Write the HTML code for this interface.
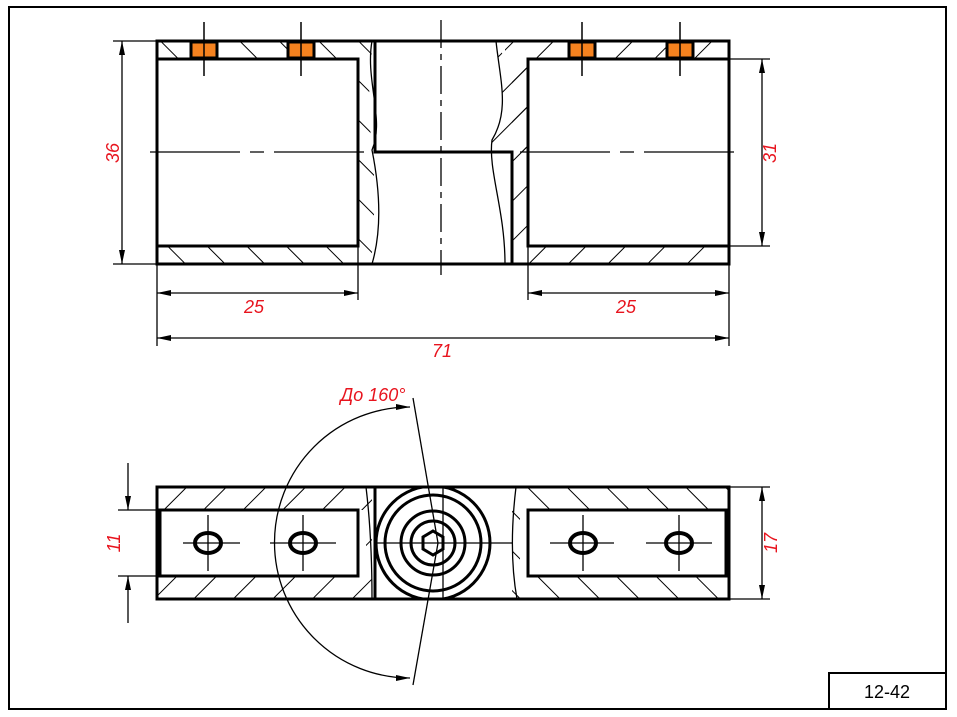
<!DOCTYPE html>
<html><head><meta charset="utf-8"><style>
html,body{margin:0;padding:0;background:#fff;}
svg{display:block;}
text{font-family:"Liberation Sans",sans-serif;}
</style></head><body>
<svg width="957" height="717" viewBox="0 0 957 717" xmlns="http://www.w3.org/2000/svg">
<defs>
<pattern id="hb" patternUnits="userSpaceOnUse" width="28" height="28" patternTransform="rotate(45)"><line x1="0" y1="0" x2="0" y2="28" stroke="#000" stroke-width="2"/></pattern>
<pattern id="hf" patternUnits="userSpaceOnUse" width="28" height="28" patternTransform="rotate(-45)"><line x1="0" y1="0" x2="0" y2="28" stroke="#000" stroke-width="2"/></pattern>
<marker id="ar" markerWidth="14" markerHeight="8" refX="14" refY="4" orient="auto" markerUnits="userSpaceOnUse"><path d="M0,1 L14,4 L0,7 Z" fill="#000"/></marker>
<marker id="as" markerWidth="14" markerHeight="8" refX="0" refY="4" orient="auto" markerUnits="userSpaceOnUse"><path d="M14,1 L0,4 L14,7 Z" fill="#000"/></marker>
</defs>
<rect x="0" y="0" width="957" height="717" fill="#fff"/>
<rect x="9" y="7" width="937" height="702" fill="none" stroke="#000" stroke-width="2"/>
<rect x="829" y="673" width="117" height="36" fill="none" stroke="#000" stroke-width="2"/>
<text x="887" y="698" font-size="18" text-anchor="middle">12-42</text>

<g>
<rect x="157" y="41" width="215" height="18" fill="url(#hf)"/>
<rect x="157" y="246" width="215" height="18" fill="url(#hf)"/>
<rect x="358" y="59" width="16" height="187" fill="url(#hf)"/>
<rect x="505" y="41" width="224" height="18" fill="url(#hb)"/>
<rect x="505" y="246" width="224" height="18" fill="url(#hb)"/>
<rect x="512" y="59" width="16" height="187" fill="url(#hb)"/>
<path d="M496,41 C500,80 510,110 492,140 C488,170 505,210 505,264 L512,264 L512,152 L528,152 L528,59 L505,59 Z" fill="url(#hb)"/>
</g>
<g fill="#fff" stroke="none">
<rect x="159" y="60" width="198" height="185"/>
<rect x="529" y="60" width="199" height="185"/>
<path d="M376,42 L376,151 L511,151 L511,263 L505,263 C505,210 488,170 492,140 C510,110 500,80 496,42 Z"/>
<path d="M372,42 L376,42 L376,151 L511,151 L511,263 L372,263 C380,230 382,180 372,140 C365,110 372,70 372,42Z"/>
</g>
<g fill="none" stroke="#000" stroke-width="3">
<rect x="157" y="41" width="572" height="223"/>
<rect x="157" y="59" width="201" height="187"/>
<rect x="528" y="59" width="201" height="187"/>
<polyline points="375,41 375,152 512,152 512,264"/>
</g>
<g fill="none" stroke="#000" stroke-width="1.3">
<path d="M372,41 C365,80 385,120 372,150 C380,190 382,230 372,264"/>
<path d="M496,41 C500,80 510,110 492,140 C488,170 505,210 505,264"/>
</g>
<g fill="#f5821f" stroke="#000" stroke-width="3">
<rect x="191" y="42" width="26" height="16"/>
<rect x="288" y="42" width="26" height="16"/>
<rect x="569" y="42" width="26" height="16"/>
<rect x="667" y="42" width="26" height="16"/>
</g>
<g stroke="#000" stroke-width="1.5">
<line x1="204" y1="22" x2="204" y2="76"/><line x1="301" y1="22" x2="301" y2="76"/>
<line x1="582" y1="22" x2="582" y2="76"/><line x1="680" y1="22" x2="680" y2="76"/>
</g>
<g stroke="#000" stroke-width="1.3" fill="none">
<line x1="441" y1="20" x2="441" y2="275" stroke-dasharray="28,6,6,6"/>
<line x1="150" y1="152" x2="370" y2="152" stroke-dasharray="90,10,14,10"/>
<line x1="520" y1="152" x2="738" y2="152" stroke-dasharray="90,10,14,10"/>
</g>
<g stroke="#000" stroke-width="1.3" fill="none">
<line x1="113" y1="41" x2="157" y2="41"/><line x1="113" y1="264" x2="157" y2="264"/>
<line x1="122" y1="41" x2="122" y2="264" marker-start="url(#as)" marker-end="url(#ar)"/>
<line x1="729" y1="59" x2="770" y2="59"/><line x1="729" y1="246" x2="770" y2="246"/>
<line x1="762" y1="59" x2="762" y2="246" marker-start="url(#as)" marker-end="url(#ar)"/>
<line x1="157" y1="264" x2="157" y2="346"/><line x1="358" y1="246" x2="358" y2="300"/>
<line x1="528" y1="246" x2="528" y2="300"/><line x1="729" y1="264" x2="729" y2="346"/>
<line x1="157" y1="293" x2="358" y2="293" marker-start="url(#as)" marker-end="url(#ar)"/>
<line x1="528" y1="293" x2="729" y2="293" marker-start="url(#as)" marker-end="url(#ar)"/>
<line x1="157" y1="338" x2="729" y2="338" marker-start="url(#as)" marker-end="url(#ar)"/>
</g>
<g fill="#e8141e" font-size="18" font-style="italic">
<text x="254" y="313" text-anchor="middle">25</text>
<text x="626" y="313" text-anchor="middle">25</text>
<text x="442" y="357" text-anchor="middle">71</text>
<text transform="translate(119,153) rotate(-90)" text-anchor="middle">36</text>
<text transform="translate(776,153) rotate(-90)" text-anchor="middle">31</text>
<text x="373" y="401" text-anchor="middle">До 160°</text>
</g>

<rect x="157" y="487" width="215" height="112" fill="url(#hb)"/>
<rect x="512" y="487" width="217" height="112" fill="url(#hf)"/>
<rect x="159" y="510" width="199" height="66" fill="#fff"/>
<rect x="528" y="510" width="199" height="66" fill="#fff"/>
<rect x="358" y="510" width="8" height="66" fill="#fff"/>
<rect x="520" y="510" width="8" height="66" fill="#fff"/>
<g fill="none" stroke="#000" stroke-width="3">
<rect x="157" y="487" width="572" height="112"/>
<rect x="160" y="510" width="198" height="66"/>
<rect x="528" y="510" width="198" height="66"/>
<line x1="375" y1="487" x2="375" y2="599"/>
</g>
<g fill="none" stroke="#000" stroke-width="1.3">
<path d="M366,487 C370,520 372,560 372,599"/>
<path d="M516,487 C512,520 510,560 517,599"/>
</g>
<clipPath id="cb"><rect x="376" y="488" width="150" height="110"/></clipPath>
<g fill="none" stroke="#000" stroke-width="3" clip-path="url(#cb)">
<circle cx="433" cy="543" r="57"/>
</g>
<g fill="none" stroke="#000" stroke-width="3">
<circle cx="433" cy="543" r="48"/>
<circle cx="433" cy="543" r="32"/>
<circle cx="433" cy="543" r="22"/>
<polygon points="433,531 443,537 443,549 433,555 423,549 423,537"/>
<ellipse cx="208" cy="543" rx="13" ry="10" stroke-width="4"/>
<ellipse cx="303" cy="543" rx="13" ry="10" stroke-width="4"/>
<ellipse cx="583" cy="543" rx="13" ry="10" stroke-width="4"/>
<ellipse cx="679" cy="543" rx="13" ry="10" stroke-width="4"/>
</g>
<g stroke="#000" stroke-width="1.3" fill="none">
<line x1="183" y1="543" x2="240" y2="543"/><line x1="208" y1="515" x2="208" y2="571"/>
<line x1="270" y1="543" x2="336" y2="543"/><line x1="303" y1="515" x2="303" y2="571"/>
<line x1="550" y1="543" x2="614" y2="543"/><line x1="583" y1="515" x2="583" y2="571"/>
<line x1="646" y1="543" x2="712" y2="543"/><line x1="679" y1="515" x2="679" y2="571"/>
<line x1="376" y1="543" x2="512" y2="543"/>
<line x1="443" y1="487" x2="443" y2="599"/>
<line x1="413" y1="398" x2="438" y2="543"/><line x1="438" y1="543" x2="413" y2="685"/>
<path d="M410,407 A135.5,135.5 0 0 0 410,678" marker-start="url(#as)" marker-end="url(#ar)"/>
<line x1="118" y1="510" x2="157" y2="510"/><line x1="118" y1="576" x2="157" y2="576"/>
<line x1="128" y1="463" x2="128" y2="510" marker-end="url(#ar)"/>
<line x1="128" y1="623" x2="128" y2="576" marker-end="url(#ar)"/>
<line x1="729" y1="487" x2="770" y2="487"/><line x1="729" y1="599" x2="770" y2="599"/>
<line x1="762" y1="487" x2="762" y2="599" marker-start="url(#as)" marker-end="url(#ar)"/>
</g>
<g fill="#e8141e" font-size="18" font-style="italic">
<text transform="translate(120,543) rotate(-90)" text-anchor="middle">11</text>
<text transform="translate(777,543) rotate(-90)" text-anchor="middle">17</text>
</g>
</svg>
</body></html>
